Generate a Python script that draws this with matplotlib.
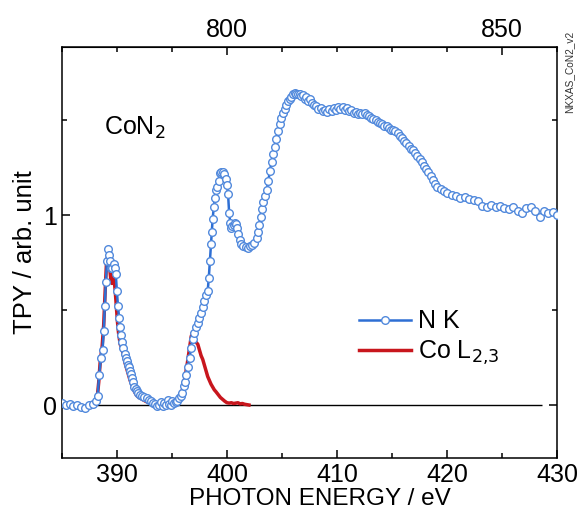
import numpy as np
import matplotlib
matplotlib.use("Agg")
import matplotlib.pyplot as plt
from matplotlib.ticker import MultipleLocator

plt.rcParams['font.family'] = ['Liberation Sans', 'DejaVu Sans']

# N K-edge TPY spectrum (photon energy / eV, intensity)
nk_energy = [385.0, 385.35, 385.7, 386.05, 386.4, 386.75, 387.1, 387.45, 387.8, 388.1,
             388.25, 388.4, 388.55, 388.7, 388.8, 388.9, 389.0, 389.1, 389.2, 389.3,
             389.4, 389.5, 389.6, 389.7, 389.8, 389.9, 390.0, 390.1, 390.2, 390.3,
             390.4, 390.5, 390.6, 390.7, 390.8, 390.9, 391.0, 391.1, 391.2, 391.3,
             391.4, 391.5, 391.6, 391.7, 391.8, 391.95, 392.1, 392.3, 392.5, 392.7,
             392.9, 393.1, 393.3, 393.5, 393.65, 393.8, 394.0, 394.15, 394.3, 394.45,
             394.6, 394.75, 394.9, 395.05, 395.2, 395.35, 395.5, 395.65, 395.8, 395.95,
             396.1, 396.2, 396.3, 396.45, 396.6, 396.75, 396.9, 397.05, 397.2, 397.35,
             397.5, 397.65, 397.8, 397.95, 398.1, 398.25, 398.35, 398.45, 398.55, 398.62,
             398.7, 398.8, 398.9, 399.0, 399.1, 399.25, 399.4, 399.5, 399.6, 399.75,
             399.9, 400.0, 400.1, 400.2, 400.3, 400.4, 400.5, 400.6, 400.7, 400.8,
             400.9, 401.0, 401.15, 401.3, 401.5, 401.7, 401.9, 402.1, 402.3, 402.5,
             402.7, 402.85, 402.95, 403.05, 403.15, 403.3, 403.45, 403.6, 403.75, 403.9,
             404.05, 404.2, 404.35, 404.5, 404.65, 404.8, 404.95, 405.1, 405.25, 405.4,
             405.55, 405.7, 405.85, 406.0, 406.15, 406.3, 406.45, 406.6, 406.75, 406.9,
             407.05, 407.2, 407.35, 407.5, 407.7, 407.9, 408.1, 408.3, 408.5, 408.7,
             408.9, 409.1, 409.3, 409.5, 409.7, 409.9, 410.1, 410.3, 410.5, 410.7,
             410.9, 411.1, 411.3, 411.5, 411.7, 411.9, 412.1, 412.3, 412.5, 412.7,
             412.9, 413.1, 413.3, 413.5, 413.7, 413.9, 414.1, 414.3, 414.5, 414.7,
             414.9, 415.1, 415.3, 415.5, 415.7, 415.9, 416.1, 416.3, 416.5, 416.7,
             416.9, 417.1, 417.3, 417.5, 417.7, 417.9, 418.1, 418.3, 418.5, 418.7,
             418.9, 419.1, 419.4, 419.7, 420.0, 420.4, 420.8, 421.2, 421.6, 422.0,
             422.4, 422.8, 423.2, 423.6, 424.0, 424.4, 424.8, 425.2, 425.6, 426.0,
             426.4, 426.8, 427.2, 427.6, 428.0, 428.4, 428.8, 429.2, 429.6, 430.0]
nk_tpy = [0.01, 0.0, 0.005, -0.005, 0.0, -0.01, -0.015, 0.0, 0.005, 0.02,
          0.05, 0.16, 0.25, 0.29, 0.39, 0.52, 0.65, 0.76, 0.82, 0.79,
          0.76, 0.72, 0.72, 0.74, 0.72, 0.69, 0.60, 0.52, 0.46, 0.41,
          0.37, 0.33, 0.30, 0.27, 0.25, 0.23, 0.21, 0.20, 0.18, 0.165,
          0.14, 0.12, 0.095, 0.085, 0.075, 0.065, 0.055, 0.05, 0.04, 0.035,
          0.025, 0.02, 0.01, 0.005, -0.005, 0.0, 0.015, -0.005, 0.01, 0.0,
          0.025, 0.005, 0.0, 0.02, 0.01, 0.015, 0.02, 0.035, 0.045, 0.065,
          0.10, 0.12, 0.16, 0.20, 0.25, 0.30, 0.35, 0.38, 0.41, 0.43,
          0.46, 0.485, 0.515, 0.55, 0.58, 0.60, 0.67, 0.76, 0.85, 0.91,
          0.98, 1.04, 1.09, 1.13, 1.15, 1.18, 1.22, 1.225, 1.225, 1.215,
          1.19, 1.16, 1.11, 1.01, 0.96, 0.93, 0.94, 0.95, 0.96, 0.955,
          0.93, 0.90, 0.87, 0.85, 0.835, 0.83, 0.825, 0.835, 0.84, 0.855,
          0.88, 0.91, 0.95, 0.99, 1.03, 1.07, 1.10, 1.13, 1.18, 1.23,
          1.28, 1.32, 1.36, 1.40, 1.44, 1.48, 1.51, 1.54, 1.56, 1.58,
          1.60, 1.61, 1.62, 1.635, 1.645, 1.64, 1.635, 1.64, 1.625, 1.63,
          1.61, 1.62, 1.60, 1.61, 1.59, 1.58, 1.575, 1.56, 1.565, 1.55,
          1.555, 1.545, 1.56, 1.55, 1.565, 1.555, 1.57, 1.56, 1.57, 1.555,
          1.565, 1.55, 1.555, 1.54, 1.545, 1.53, 1.54, 1.53, 1.535, 1.525,
          1.52, 1.51, 1.505, 1.50, 1.49, 1.485, 1.48, 1.47, 1.47, 1.46,
          1.45, 1.45, 1.44, 1.43, 1.415, 1.405, 1.39, 1.38, 1.365, 1.35,
          1.34, 1.325, 1.31, 1.295, 1.28, 1.26, 1.245, 1.225, 1.205, 1.185,
          1.165, 1.15, 1.135, 1.125, 1.115, 1.105, 1.10, 1.09, 1.095, 1.085,
          1.08, 1.075, 1.05, 1.045, 1.055, 1.04, 1.05, 1.035, 1.03, 1.045,
          1.02, 1.01, 1.035, 1.04, 1.02, 0.99, 1.02, 1.01, 1.015, 1.00]

# Co L2,3-edge spectrum (energy on the N K scale, i.e. half the photon energy)
co_energy = [388.0, 388.2, 388.35, 388.5, 388.65, 388.8, 388.95, 389.05, 389.15, 389.25,
             389.35, 389.45, 389.55, 389.65, 389.75, 389.85, 389.95, 390.05, 390.15, 390.3,
             390.45, 390.6, 390.75, 390.9, 391.05, 391.2, 391.4, 391.6, 391.8, 392.0,
             392.3, 392.6, 393.0, 393.5, 394.0, 394.5, 395.0, 395.5, 395.8, 396.0,
             396.2, 396.4, 396.6, 396.75, 396.85, 396.95, 397.05, 397.2, 397.35, 397.5,
             397.65, 397.8, 397.95, 398.1, 398.25, 398.4, 398.55, 398.7, 398.85, 399.0,
             399.2, 399.4, 399.6, 399.8, 400.0, 400.2, 400.4, 400.6, 400.8, 401.0,
             401.2, 401.4, 401.6, 401.8, 402.0]
co_tpy = [0.0, 0.03, 0.12, 0.24, 0.30, 0.42, 0.62, 0.74, 0.78, 0.76,
          0.72, 0.66, 0.64, 0.68, 0.66, 0.60, 0.52, 0.44, 0.38, 0.32,
          0.30, 0.26, 0.22, 0.19, 0.16, 0.13, 0.10, 0.07, 0.05, 0.04,
          0.03, 0.02, 0.01, 0.0, 0.0, 0.01, 0.005, 0.02, 0.05, 0.09,
          0.15, 0.22, 0.30, 0.36, 0.38, 0.37, 0.34, 0.33, 0.32, 0.29,
          0.26, 0.24, 0.21, 0.18, 0.15, 0.13, 0.11, 0.095, 0.08, 0.07,
          0.055, 0.04, 0.03, 0.02, 0.012, 0.01, 0.012, 0.008, 0.01, 0.012,
          0.006, 0.008, 0.004, 0.002, 0.0]

fig = plt.figure(figsize=(5.78, 5.11), dpi=100)
ax = fig.add_axes([0.107, 0.1037, 0.857, 0.804])

ax.plot(co_energy, co_tpy, color='#c8161d', lw=2.5, zorder=3, label='Co L$_{2{,}3}$')
ax.plot(nk_energy, nk_tpy, '-o', color='#2e6fd4', lw=1.8, ms=5.5,
        mfc='white', mec='#5189dc', mew=1.0, zorder=4, label='N K')
ax.hlines(0, 385, 428.6, color='black', lw=1.0, zorder=1)

ax.set_xlim(385, 430)
ax.set_ylim(-0.279, 1.884)
ax.xaxis.set_major_locator(MultipleLocator(10))
ax.xaxis.set_minor_locator(MultipleLocator(5))
ax.yaxis.set_major_locator(MultipleLocator(1))
ax.yaxis.set_minor_locator(MultipleLocator(0.5))
ax.tick_params(which='both', direction='in', right=True, width=1.1, labelsize=18)
ax.tick_params(which='major', length=6)
ax.tick_params(which='minor', length=3.5)
for s in ax.spines.values():
    s.set_linewidth(1.1)

ax.set_xlabel('PHOTON ENERGY / eV', fontsize=17.5, labelpad=0)
ax.xaxis.set_label_coords(0.52, -0.072)
ax.set_ylabel('TPY / arb. unit', fontsize=18.5, labelpad=4)

top = ax.secondary_xaxis('top', functions=(lambda e: 2 * e, lambda e: e / 2))
top.set_xticks([800, 850])
top.xaxis.set_minor_locator(MultipleLocator(10))
top.tick_params(which='both', direction='in', width=1.1, labelsize=18)
top.tick_params(which='major', length=6)
top.tick_params(which='minor', length=3.5)

ax.text(388.85, 1.46, 'CoN$_2$', fontsize=18, ha='left', va='center')

handles, labels = ax.get_legend_handles_labels()
ax.legend(handles[::-1], labels[::-1], loc='center left', bbox_to_anchor=(0.554, 0.292),
          frameon=False, fontsize=18, handlelength=2.1, handletextpad=0.25,
          labelspacing=0.2, numpoints=1)

fig.text(0.984, 0.86, 'NKXAS_CoN2_v2', rotation=90, fontsize=7.3, ha='center',
         va='center', color='#333333')

fig.savefig('out.png', dpi=100)
